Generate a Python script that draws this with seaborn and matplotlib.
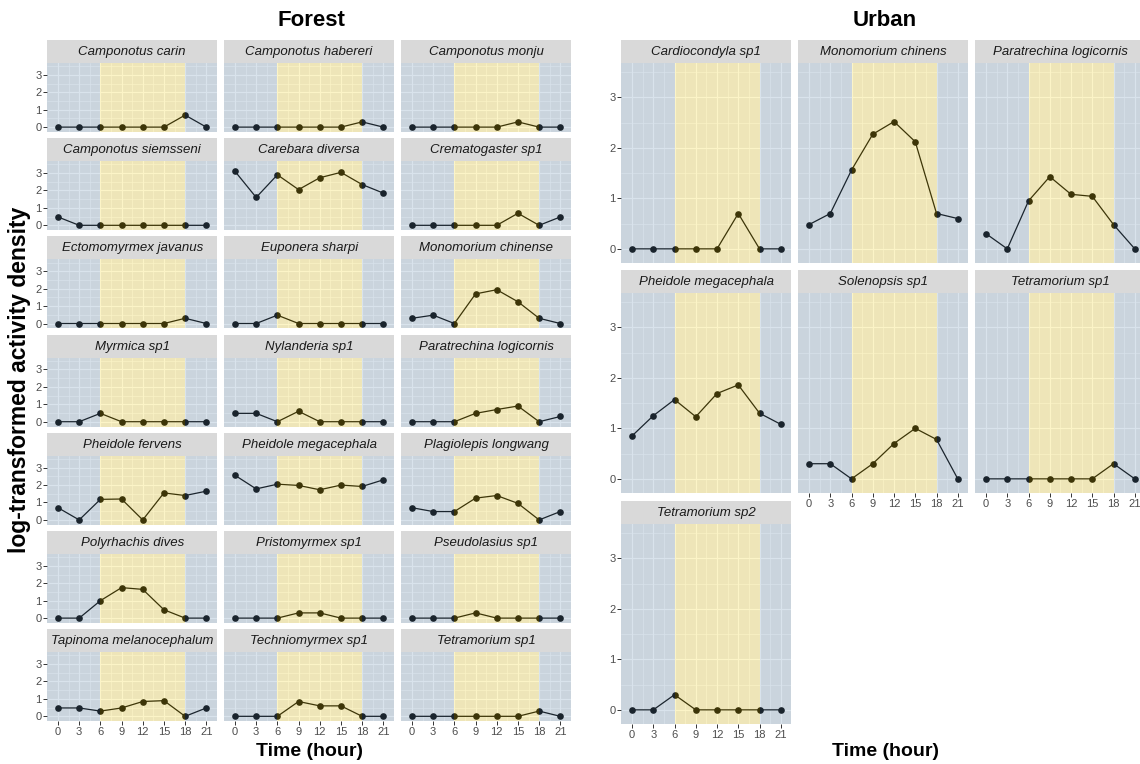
import pandas as pd
import matplotlib
matplotlib.use('Agg')
import matplotlib.pyplot as plt
import seaborn as sns

plt.rcParams['font.family'] = ['Liberation Sans', 'DejaVu Sans']

hours = [0, 3, 6, 9, 12, 15, 18, 21]
y_ticks = [0, 1, 2, 3]

forest_species = ['Camponotus carin', 'Camponotus habereri', 'Camponotus monju',
                  'Camponotus siemsseni', 'Carebara diversa', 'Crematogaster sp1',
                  'Ectomomyrmex javanus', 'Euponera sharpi', 'Monomorium chinense',
                  'Myrmica sp1', 'Nylanderia sp1', 'Paratrechina logicornis',
                  'Pheidole fervens', 'Pheidole megacephala', 'Plagiolepis longwang',
                  'Polyrhachis dives', 'Pristomyrmex sp1', 'Pseudolasius sp1',
                  'Tapinoma melanocephalum', 'Techniomyrmex sp1', 'Tetramorium sp1']
forest_density = [
    [0, 0, 0, 0, 0, 0, 0.69, 0],
    [0, 0, 0, 0, 0, 0, 0.3, 0],
    [0, 0, 0, 0, 0, 0.3, 0, 0],
    [0.48, 0, 0, 0, 0, 0, 0, 0],
    [3.1, 1.6, 2.9, 2.05, 2.73, 3.04, 2.34, 1.85],
    [0, 0, 0, 0, 0, 0.69, 0, 0.48],
    [0, 0, 0, 0, 0, 0, 0.3, 0],
    [0, 0, 0.48, 0, 0, 0, 0, 0],
    [0.3, 0.48, 0, 1.7, 1.94, 1.25, 0.3, 0],
    [0, 0, 0.48, 0, 0, 0, 0, 0],
    [0.48, 0.48, 0, 0.6, 0, 0, 0, 0],
    [0, 0, 0, 0.48, 0.7, 0.9, 0, 0.3],
    [0.7, 0, 1.18, 1.2, 0, 1.55, 1.4, 1.65],
    [2.56, 1.78, 2.05, 1.98, 1.73, 2.0, 1.92, 2.3],
    [0.7, 0.48, 0.48, 1.25, 1.4, 0.95, 0, 0.48],
    [0, 0, 1.0, 1.75, 1.65, 0.48, 0, 0],
    [0, 0, 0, 0.3, 0.3, 0, 0, 0],
    [0, 0, 0, 0.3, 0, 0, 0, 0],
    [0.48, 0.48, 0.3, 0.48, 0.85, 0.9, 0, 0.48],
    [0, 0, 0, 0.85, 0.6, 0.6, 0, 0],
    [0, 0, 0, 0, 0, 0, 0.3, 0],
]

urban_species = ['Cardiocondyla sp1', 'Monomorium chinens', 'Paratrechina logicornis',
                 'Pheidole megacephala', 'Solenopsis sp1', 'Tetramorium sp1',
                 'Tetramorium sp2']
urban_density = [
    [0, 0, 0, 0, 0, 0.7, 0, 0],
    [0.48, 0.7, 1.56, 2.27, 2.52, 2.12, 0.7, 0.6],
    [0.3, 0, 0.95, 1.43, 1.08, 1.04, 0.48, 0],
    [0.85, 1.25, 1.57, 1.23, 1.69, 1.86, 1.3, 1.08],
    [0.3, 0.3, 0, 0.3, 0.7, 1.0, 0.78, 0],
    [0, 0, 0, 0, 0, 0, 0.3, 0],
    [0, 0, 0.3, 0, 0, 0, 0, 0],
]

W, H = 1140, 764
fig = plt.figure(figsize=(W / 100, H / 100), dpi=100)


def px_axes(left, top, width, height):
    return fig.add_axes([left / W, 1 - (top + height) / H, width / W, height / H])


def draw_panel(left, top, w, h, name, values, show_y, show_x):
    # facet strip
    strip = px_axes(left, top, w, 23)
    strip.set_facecolor('#D9D9D9')
    strip.set_xticks([])
    strip.set_yticks([])
    for s in strip.spines.values():
        s.set_visible(False)
    strip.text(0.5, 0.48, name, style='italic', ha='center', va='center',
               fontsize=9.5, color='#1A1A1A', transform=strip.transAxes)

    ax = px_axes(left, top + 23, w, h)
    ax.set_facecolor('#EBEBEB')
    d = pd.DataFrame({'hour': hours, 'density': values})
    sns.lineplot(data=d, x='hour', y='density', color='black', lw=0.9,
                 marker='o', markersize=4.8, markeredgewidth=0, ax=ax, zorder=2)
    # night / day shading drawn on top, like the ggplot annotate rects
    ax.axvspan(-1.5, 6, color='#6B93B7', alpha=0.25, lw=0, zorder=3)
    ax.axvspan(18, 22.5, color='#6B93B7', alpha=0.25, lw=0, zorder=3)
    ax.axvspan(6, 18, color='#F7D723', alpha=0.25, lw=0, zorder=3)

    ax.set_xlim(-1.5, 22.5)
    ax.set_ylim(-0.28, 3.68)
    ax.set_xticks(hours)
    ax.set_xticks([h_ + 1.5 for h_ in hours[:-1]], minor=True)
    ax.set_yticks(y_ticks)
    ax.set_yticks([0.5, 1.5, 2.5, 3.5], minor=True)
    ax.set_axisbelow(True)
    ax.grid(which='major', color='white', lw=0.8)
    ax.grid(which='minor', color='white', lw=0.4)
    ax.tick_params(which='minor', length=0)
    ax.tick_params(which='major', length=2.8, width=0.7, color='#333333',
                   labelsize=8, labelcolor='#4D4D4D', pad=1.5)
    ax.tick_params(axis='y', left=show_y, labelleft=show_y)
    ax.tick_params(axis='x', bottom=show_x, labelbottom=show_x)
    ax.set_xlabel('')
    ax.set_ylabel('')
    for s in ax.spines.values():
        s.set_visible(False)


# Forest: 7 x 3 grid
f_lefts = [47.4, 224.4, 401.4]
for i, (name, vals) in enumerate(zip(forest_species, forest_density)):
    r, c = divmod(i, 3)
    draw_panel(f_lefts[c], 40 + 98.2 * r, 169.5, 69, name, vals,
               show_y=(c == 0), show_x=(r == 6))

# Urban: 3 x 3 grid, 7 panels
u_lefts = [621.4, 798.4, 975.4]
u_tops = [40, 270, 501]
for i, (name, vals) in enumerate(zip(urban_species, urban_density)):
    r, c = divmod(i, 3)
    last = (i + 3 >= len(urban_species))
    draw_panel(u_lefts[c], u_tops[r], 170, 200, name, vals,
               show_y=(c == 0), show_x=last)

fig.text(311 / W, 1 - 20 / H, 'Forest', fontsize=16, weight='bold', ha='center', va='center')
fig.text(885 / W, 1 - 20 / H, 'Urban', fontsize=16, weight='bold', ha='center', va='center')
fig.text(20 / W, 1 - 380 / H, 'log-transformed activity density', fontsize=16.5,
         weight='bold', rotation=90, ha='center', va='center')
fig.text(310 / W, 1 - 752 / H, 'Time (hour)', fontsize=14, weight='bold', ha='center', va='center')
fig.text(885 / W, 1 - 752 / H, 'Time (hour)', fontsize=14, weight='bold', ha='center', va='center')

fig.savefig('out.png', dpi=100)
